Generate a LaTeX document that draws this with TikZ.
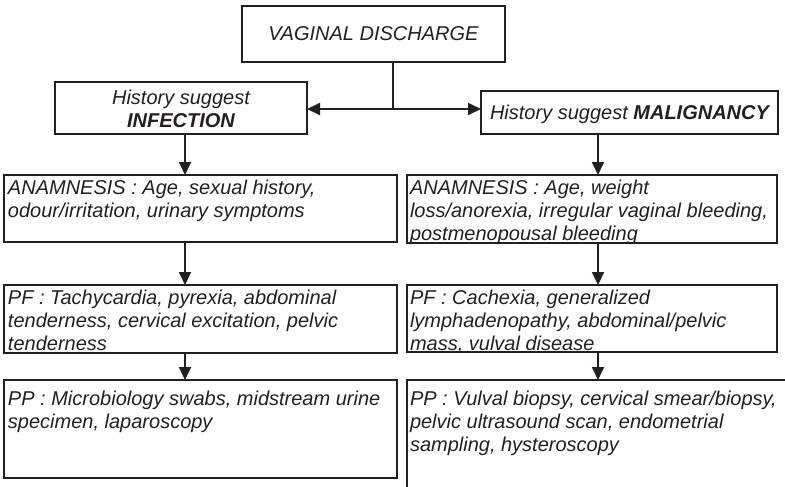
\documentclass[tikz,border=0pt]{standalone}
\usepackage{fontspec}
\setmainfont{Liberation Sans}
\usetikzlibrary{arrows.meta}
\definecolor{ink}{HTML}{231F20}
\begin{document}
\begin{tikzpicture}[x=1pt,y=-1pt,
  box/.style={draw=ink,line width=1.3pt,inner sep=0pt,outer sep=0pt,fill=none},
  arr/.style={draw=ink,line width=1.8pt,-{Triangle[length=13pt,width=12pt]}},
  conn/.style={draw=ink,line width=1.8pt},
  txt/.style={inner sep=0pt,outer sep=0pt,text=ink,font=\fontsize{20}{23}\selectfont\itshape},
  ln/.style={txt,anchor=base west},
  cl/.style={txt,anchor=base}]
\useasboundingbox (0,0) rectangle (785,487);
% boxes
\node[box,minimum width=263pt,minimum height=56pt] (top) at (373.5,34) {};
\node[box,minimum width=252pt,minimum height=52pt] (inf) at (181,108) {};
\node[box,minimum width=297pt,minimum height=43pt] (mal) at (629.5,112.5) {};
\node[box,minimum width=393pt,minimum height=67pt] (anL) at (200.5,208.5) {};
\node[box,minimum width=370pt,minimum height=68pt] (anR) at (592,209) {};
\node[box,minimum width=393pt,minimum height=68pt] (pfL) at (200.5,319) {};
\node[box,minimum width=370pt,minimum height=67pt] (pfR) at (592,318.5) {};
\node[box,minimum width=393pt,minimum height=98pt] (ppL) at (200.5,429) {};
\node[box,minimum width=390pt,minimum height=130pt] (ppR) at (602,445) {};
% texts
\node[cl] (t1) at (373.5,41) {VAGINAL DISCHARGE};
\node[cl] (i1) at (181,104) {History suggest};
\node[cl] (i2) at (181,127) {\bfseries INFECTION};
\node[cl] (m1) at (629.5,120) {History suggest \bfseries MALIGNANCY};
\node[ln] (a1) at (8,194) {ANAMNESIS : Age, sexual history,};
\node[ln] (a2) at (8,217) {odour/irritation, urinary symptoms};
\node[ln] (b1) at (410,194) {ANAMNESIS : Age, weight};
\node[ln] (b2) at (410,217) {loss/anorexia, irregular vaginal bleeding,};
\node[ln] (b3) at (410,240) {postmenopousal bleeding};
\node[ln] (c1) at (8,304) {PF : Tachycardia, pyrexia, abdominal};
\node[ln] (c2) at (8,327) {tenderness, cervical excitation, pelvic};
\node[ln] (c3) at (8,350) {tenderness};
\node[ln] (d1) at (410,304) {PF : Cachexia, generalized};
\node[ln] (d2) at (410,327) {lymphadenopathy, abdominal/pelvic};
\node[ln] (d3) at (410,350) {mass, vulval disease};
\node[ln] (e1) at (8,405) {PP : Microbiology swabs, midstream urine};
\node[ln] (e2) at (8,428) {specimen, laparoscopy};
\node[ln] (f1) at (410,405) {PP : Vulval biopsy, cervical smear/biopsy,};
\node[ln] (f2) at (410,428) {pelvic ultrasound scan, endometrial};
\node[ln] (f3) at (410,451) {sampling, hysteroscopy};
% connectors
\coordinate (j) at (393,109);
\coordinate (xl) at (185,0);
\coordinate (xr) at (598,0);
\draw[conn] (top.south -| j) -- (j);
\draw[arr] (j) -- (inf.east |- j);
\draw[arr] (j) -- (mal.west |- j);
\draw[arr] (inf.south -| xl) -- (anL.north -| xl);
\draw[arr] (anL.south -| xl) -- (pfL.north -| xl);
\draw[arr] (pfL.south -| xl) -- (ppL.north -| xl);
\draw[arr] (mal.south -| xr) -- (anR.north -| xr);
\draw[arr] (anR.south -| xr) -- (pfR.north -| xr);
\draw[arr] (pfR.south -| xr) -- (ppR.north -| xr);
\end{tikzpicture}
\end{document}
